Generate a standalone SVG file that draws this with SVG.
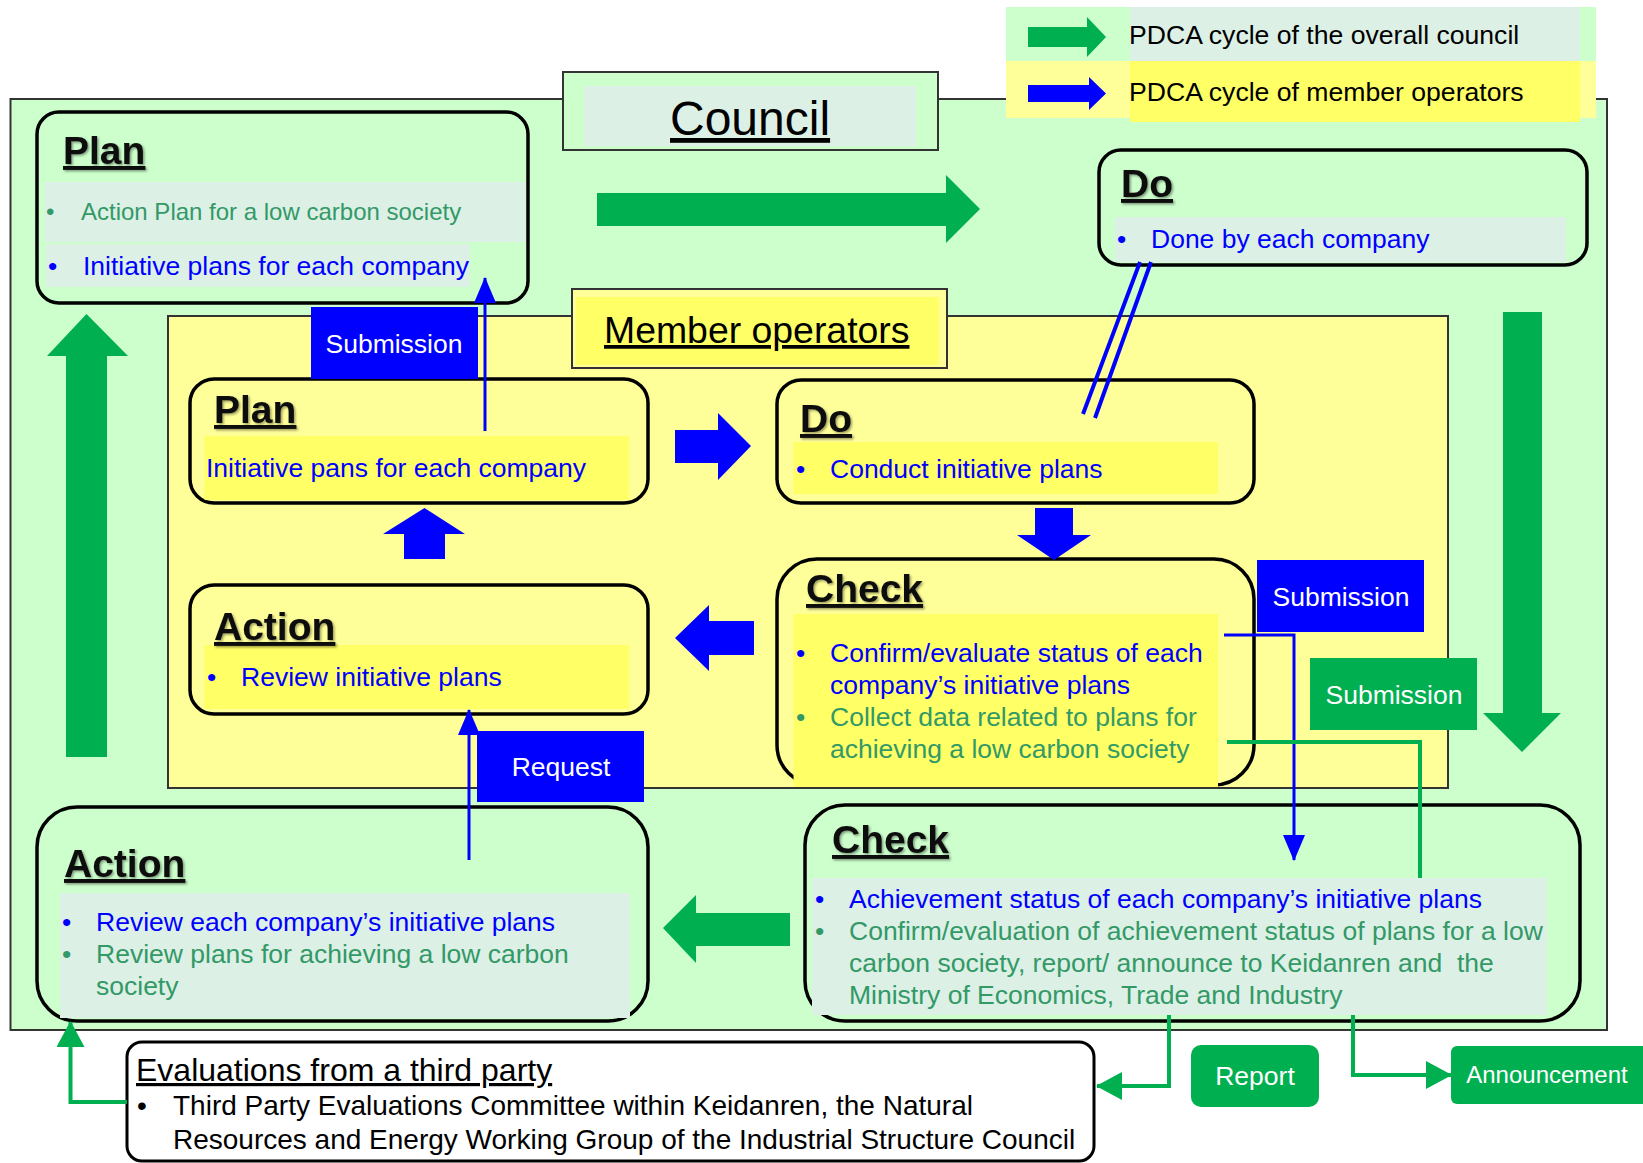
<svg xmlns="http://www.w3.org/2000/svg" width="1643" height="1163" viewBox="0 0 1643 1163">
<defs>
<style>
text{font-family:"Liberation Sans",Arial,sans-serif}
.hd{font-size:39px;font-weight:bold;fill:#111;text-decoration:underline}
.b{font-size:26.5px;fill:#0000ff}
.g{font-size:26.5px;fill:#339966}
.k{fill:#000}
.wt{font-size:26.5px;fill:#fff;text-anchor:middle}
.rbox{stroke:#000;stroke-width:3.5}
.gfill{fill:#ccffcc}
.yfill{fill:#ffff99}
.lg{fill:#dcf0e6}
.ly{fill:#ffff66}
.frame{stroke:#333;stroke-width:2}
.gA{fill:#00b050}
.bA{fill:#0000ff}
.bl{stroke:#0000ff;stroke-width:3;fill:none}
.gl{stroke:#00b050;stroke-width:4;fill:none}
</style>
<filter id="sh" x="-10%" y="-20%" width="130%" height="150%">
<feDropShadow dx="1.5" dy="1.5" stdDeviation="1.2" flood-color="#000" flood-opacity="0.4"/>
</filter>
<marker id="mb" markerUnits="userSpaceOnUse" viewBox="0 0 26 22" markerWidth="26" markerHeight="22" refX="25" refY="11" orient="auto">
<path d="M0,0 L26,11 L0,22 z" fill="#0000ff"/>
</marker>
<marker id="mg" markerUnits="userSpaceOnUse" viewBox="0 0 26 28" markerWidth="26" markerHeight="28" refX="25" refY="14" orient="auto">
<path d="M0,0 L26,14 L0,28 z" fill="#00b050"/>
</marker>
</defs>

<g id="council-frame">
<rect x="10.5" y="99" width="1596.5" height="931" class="gfill frame"/>
</g>

<g id="member-frame">
<rect x="168" y="316" width="1280" height="472" class="yfill frame"/>
</g>

<g id="council-title">
<rect x="563" y="72" width="375" height="78" class="gfill frame"/>
<rect x="584" y="86" width="332" height="60" class="lg"/>
<text x="670" y="135" class="k" font-size="48" text-decoration="underline">Council</text>
</g>

<g id="member-title">
<rect x="572" y="289" width="375" height="79" class="yfill frame"/>
<rect x="576" y="297" width="363" height="68" class="ly"/>
<text x="604" y="343" class="k" font-size="37.4" text-decoration="underline">Member operators</text>
</g>

<g id="legend">
<rect x="1006" y="7" width="590" height="54" class="gfill"/>
<rect x="1130" y="7" width="450" height="54" class="lg"/>
<rect x="1006" y="61" width="590" height="57" class="yfill"/>
<rect x="1130" y="61" width="450" height="61" class="ly"/>
<polygon points="1028,27 1087,27 1087,17 1106,37 1087,57 1087,47 1028,47" class="gA"/>
<polygon points="1028,85 1089,85 1089,77 1106,93.5 1089,110 1089,102 1028,102" class="bA"/>
<text x="1129" y="44" class="k" font-size="26.6">PDCA cycle of the overall council</text>
<text x="1129" y="101" class="k" font-size="26.6">PDCA cycle of member operators</text>
</g>

<g id="council-plan">
<rect x="37" y="112" width="491" height="191" rx="22" class="gfill rbox"/>
<rect x="44.5" y="182" width="481" height="60" class="lg"/>
<rect x="46" y="244" width="424" height="43" class="lg"/>
<text x="63" y="164" class="hd" filter="url(#sh)">Plan</text>
<text y="220" class="g" style="font-size:24px"><tspan x="46">•</tspan><tspan x="81">Action Plan for a low carbon society</tspan></text>
<text y="275" class="b"><tspan x="48">•</tspan><tspan x="83">Initiative plans for each company</tspan></text>
</g>

<g id="council-do">
<rect x="1099" y="150" width="488" height="115" rx="22" class="gfill rbox"/>
<rect x="1115" y="217" width="451" height="45" class="lg"/>
<text x="1121" y="197" class="hd" filter="url(#sh)">Do</text>
<text y="248" class="b"><tspan x="1117">•</tspan><tspan x="1151">Done by each company</tspan></text>
</g>

<g id="member-plan">
<rect x="190" y="379" width="458" height="124" rx="24" class="yfill rbox"/>
<rect x="204.5" y="436" width="424.5" height="64" class="ly"/>
<text x="214" y="423" class="hd" filter="url(#sh)">Plan</text>
<text x="206" y="477" class="b">Initiative pans for each company</text>
</g>

<g id="member-do">
<rect x="777" y="380" width="477" height="123" rx="24" class="yfill rbox"/>
<rect x="793.5" y="442" width="424.5" height="52" class="ly"/>
<text x="800" y="432" class="hd" filter="url(#sh)">Do</text>
<text y="478" class="b"><tspan x="796">•</tspan><tspan x="830">Conduct initiative plans</tspan></text>
</g>

<g id="member-check">
<rect x="777" y="559" width="477" height="226" rx="40" class="yfill rbox"/>
<rect x="793.5" y="614" width="424.5" height="173" class="ly"/>
<text x="806" y="602" class="hd" filter="url(#sh)">Check</text>
<text y="662" class="b"><tspan x="796">•</tspan><tspan x="830">Confirm/evaluate status of each</tspan></text>
<text x="830" y="694" class="b">company’s initiative plans</text>
<text y="726" class="g"><tspan x="796">•</tspan><tspan x="830">Collect data related to plans for</tspan></text>
<text x="830" y="758" class="g">achieving a low carbon society</text>
</g>

<g id="member-action">
<rect x="190" y="585" width="458" height="129" rx="24" class="yfill rbox"/>
<rect x="204.5" y="645" width="424.5" height="64" class="ly"/>
<text x="214" y="640" class="hd" filter="url(#sh)">Action</text>
<text y="686" class="b"><tspan x="207">•</tspan><tspan x="241">Review initiative plans</tspan></text>
</g>

<g id="council-action">
<rect x="37" y="807" width="611" height="214" rx="40" class="gfill rbox"/>
<rect x="60" y="893" width="570" height="125" class="lg"/>
<text x="64" y="877" class="hd" filter="url(#sh)">Action</text>
<text y="931" class="b"><tspan x="62">•</tspan><tspan x="96">Review each company’s initiative plans</tspan></text>
<text y="963" class="g"><tspan x="62">•</tspan><tspan x="96">Review plans for achieving a low carbon</tspan></text>
<text x="96" y="995" class="g">society</text>
</g>

<g id="council-check">
<rect x="805" y="805" width="775" height="216" rx="40" class="gfill rbox"/>
<rect x="812" y="878" width="735" height="137" class="lg"/>
<text x="832" y="853" class="hd" filter="url(#sh)">Check</text>
<text y="908" class="b"><tspan x="815">•</tspan><tspan x="849">Achievement status of each company’s initiative plans</tspan></text>
<text y="940" class="g"><tspan x="815">•</tspan><tspan x="849">Confirm/evaluation of achievement status of plans for a low</tspan></text>
<text x="849" y="972" class="g" xml:space="preserve">carbon society, report/ announce to Keidanren and  the</text>
<text x="849" y="1004" class="g">Ministry of Economics, Trade and Industry</text>
</g>

<g id="third-party">
<rect x="127" y="1042" width="967" height="119" rx="15" fill="#fff" stroke="#000" stroke-width="3"/>
<text x="136" y="1081" class="k" font-size="32" text-decoration="underline">Evaluations from a third party</text>
<text y="1115" class="k" font-size="28"><tspan x="137">•</tspan><tspan x="173">Third Party Evaluations Committee within Keidanren, the Natural</tspan></text>
<text x="173" y="1149" class="k" font-size="28">Resources and Energy Working Group of the Industrial Structure Council</text>
</g>

<g id="connectors">
<polygon points="597,193 946,193 946,175 980,209 946,243 946,226 597,226" class="gA"/>
<polygon points="1503,312 1542,312 1542,713 1561,713 1522,752 1483,713 1503,713" class="gA"/>
<polygon points="66,757 66,356 47,356 86.5,314 128,356 107,356 107,757" class="gA"/>
<polygon points="663,928 696,895 696,913 790,913 790,946 696,946 696,963" class="gA"/>
<polygon points="675,430 718,430 718,413 751,446 718,480 718,463 675,463" class="bA"/>
<polygon points="1035,508 1073,508 1073,535 1091,535 1054,560 1017,535 1035,535" class="bA"/>
<polygon points="404,559 404,534 383,534 424.5,508 465,534 445,534 445,559" class="bA"/>
<polygon points="675,638 709,605 709,621 754,621 754,655 709,655 709,671" class="bA"/>
<line x1="485" y1="431" x2="485" y2="278" class="bl" marker-end="url(#mb)"/>
<line x1="469" y1="860" x2="469" y2="710" class="bl" marker-end="url(#mb)"/>
<line x1="1140" y1="262" x2="1083" y2="414" stroke="#0000ff" stroke-width="4"/>
<line x1="1151" y1="262" x2="1095" y2="418" stroke="#0000ff" stroke-width="4"/>
<polyline points="1224,635 1294,635 1294,860" class="bl" marker-end="url(#mb)"/>
<polyline points="1227,742 1420,742 1420,878" class="gl"/>
<polyline points="127,1102 70.5,1102 70.5,1022" class="gl" marker-end="url(#mg)"/>
<polyline points="1169,1015 1169,1086 1097,1086" class="gl" marker-end="url(#mg)"/>
<polyline points="1353,1015 1353,1075 1451,1075" class="gl" marker-end="url(#mg)"/>
</g>

<g id="label-submission-top">
<rect x="311" y="307" width="167" height="72" class="bA"/>
<text x="394" y="353" class="wt">Submission</text>
</g>
<g id="label-submission-blue">
<rect x="1257" y="560" width="167" height="72" class="bA"/>
<text x="1341" y="606" class="wt">Submission</text>
</g>
<g id="label-submission-green">
<rect x="1310" y="658" width="167" height="72" class="gA"/>
<text x="1394" y="704" class="wt">Submission</text>
</g>
<g id="label-request">
<rect x="477" y="731" width="167" height="71" class="bA"/>
<text x="561" y="776" class="wt">Request</text>
</g>
<g id="label-report">
<rect x="1191" y="1045" width="128" height="62" rx="10" class="gA"/>
<text x="1255" y="1085" class="wt">Report</text>
</g>
<g id="label-announcement">
<rect x="1451" y="1046" width="200" height="58" rx="6" class="gA"/>
<text x="1547" y="1083" class="wt" style="font-size:24px">Announcement</text>
</g>
</svg>
